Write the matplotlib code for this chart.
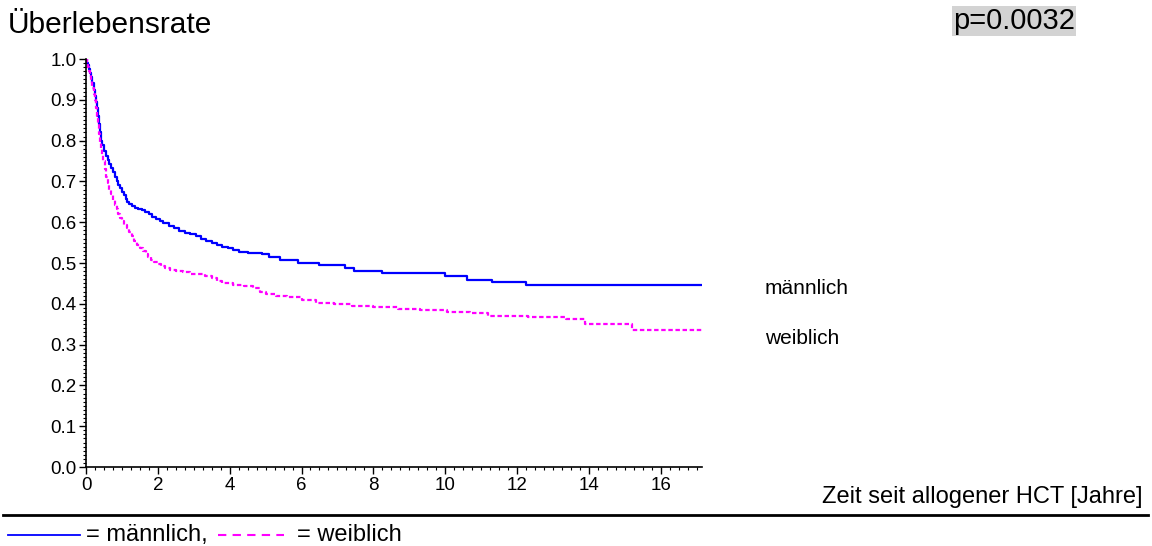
import matplotlib
matplotlib.use("Agg")
import matplotlib.pyplot as plt
from matplotlib.ticker import MultipleLocator, FormatStrFormatter
from matplotlib.lines import Line2D

plt.rcParams['font.family'] = ['Liberation Sans', 'DejaVu Sans']

# Data (Kaplan-Meier step breakpoints)
male_t = [0, 0.03, 0.06, 0.09, 0.12, 0.15, 0.18, 0.21, 0.24, 0.27, 0.3, 0.33, 0.36, 0.39,
          0.42, 0.45, 0.5, 0.55, 0.6, 0.65, 0.7, 0.75, 0.8, 0.85, 0.9, 0.95, 1.0, 1.05,
          1.1, 1.15, 1.2, 1.28, 1.36, 1.45, 1.55, 1.65, 1.75, 1.85, 1.95, 2.05, 2.15,
          2.3, 2.45, 2.6, 2.75, 2.9, 3.05, 3.2, 3.35, 3.5, 3.65, 3.8, 3.95, 4.1, 4.25,
          4.5, 4.9, 5.1, 5.4, 5.9, 6.5, 7.2, 7.45, 8.25, 10.0, 10.6, 11.3, 12.25, 17.15]
male_s = [1.0, 0.99, 0.985, 0.975, 0.965, 0.955, 0.94, 0.925, 0.91, 0.895, 0.88, 0.86,
          0.84, 0.82, 0.80, 0.79, 0.775, 0.762, 0.752, 0.742, 0.732, 0.722, 0.712, 0.702,
          0.692, 0.683, 0.674, 0.666, 0.658, 0.65, 0.644, 0.639, 0.636, 0.633, 0.629,
          0.624, 0.619, 0.613, 0.607, 0.602, 0.597, 0.591, 0.585, 0.579, 0.574, 0.57,
          0.565, 0.559, 0.553, 0.549, 0.545, 0.54, 0.536, 0.532, 0.528, 0.524, 0.521,
          0.514, 0.507, 0.50, 0.494, 0.487, 0.48, 0.475, 0.468, 0.458, 0.453, 0.447, 0.447]
female_t = [0, 0.03, 0.06, 0.09, 0.12, 0.15, 0.18, 0.21, 0.24, 0.27, 0.3, 0.33, 0.36,
            0.39, 0.42, 0.45, 0.48, 0.52, 0.56, 0.6, 0.65, 0.7, 0.75, 0.8, 0.85, 0.9,
            0.95, 1.0, 1.07, 1.14, 1.21, 1.28, 1.35, 1.42, 1.5, 1.58, 1.66, 1.74, 1.82,
            1.9, 2.0, 2.1, 2.2, 2.35, 2.5, 2.7, 2.9, 3.1, 3.3, 3.5, 3.65, 3.8, 4.1, 4.4,
            4.65, 4.85, 5.0, 5.3, 5.6, 6.0, 6.4, 6.9, 7.4, 8.0, 8.7, 9.3, 10.05, 10.7,
            11.2, 12.3, 13.35, 13.9, 15.2, 17.15]
female_s = [1.0, 0.99, 0.98, 0.97, 0.96, 0.945, 0.93, 0.915, 0.90, 0.88, 0.86, 0.84,
            0.815, 0.795, 0.78, 0.765, 0.75, 0.73, 0.71, 0.695, 0.68, 0.67, 0.655, 0.643,
            0.632, 0.62, 0.61, 0.602, 0.594, 0.585, 0.575, 0.565, 0.555, 0.545, 0.537,
            0.529, 0.521, 0.514, 0.508, 0.503, 0.498, 0.493, 0.488, 0.484, 0.48, 0.477,
            0.474, 0.472, 0.469, 0.463, 0.457, 0.45, 0.447, 0.443, 0.438, 0.428, 0.424,
            0.42, 0.416, 0.41, 0.403, 0.399, 0.395, 0.392, 0.388, 0.386, 0.381, 0.378,
            0.37, 0.368, 0.362, 0.35, 0.337, 0.337]
x_ticks = [0, 2, 4, 6, 8, 10, 12, 14, 16]
y_ticks = [0.0, 0.1, 0.2, 0.3, 0.4, 0.5, 0.6, 0.7, 0.8, 0.9, 1.0]
labels = ["männlich", "weiblich"]

W, H = 1152, 546
fig = plt.figure(figsize=(W / 100, H / 100), dpi=100)
ax = fig.add_axes([86 / W, 1 - 467 / H, (702 - 86) / W, (467 - 59) / H])

ax.step(male_t, male_s, where='post', color='#0000ff', lw=1.6)
ax.step(female_t, female_s, where='post', color='#ff00ff', lw=1.6, linestyle=(0, (2, 1.2)))

ax.set_xlim(0, 17.15)
ax.set_ylim(0, 1.0)
for s in ['top', 'right']:
    ax.spines[s].set_visible(False)
ax.spines['left'].set_linewidth(1.2)
ax.spines['bottom'].set_linewidth(1.2)
ax.set_xticks(x_ticks)
ax.set_yticks(y_ticks)
ax.yaxis.set_major_formatter(FormatStrFormatter('%.1f'))
ax.xaxis.set_minor_locator(MultipleLocator(0.25))
ax.yaxis.set_minor_locator(MultipleLocator(0.01))
ax.tick_params(axis='both', which='major', direction='out', length=5, width=1,
               labelsize=13.5, pad=2)
ax.tick_params(axis='both', which='minor', direction='out', length=2.5, width=0.8)

# Title and p-value
fig.text(8 / W, 1 - 25 / H, "Überlebensrate", fontsize=21.5, ha='left', va='center')
fig.text(953 / W, 1 - 21 / H, "p=0.0032", fontsize=21, ha='left', va='center',
         bbox=dict(facecolor='#d3d3d3', edgecolor='none', pad=1))

# Curve labels
fig.text(765 / W, 1 - 289 / H, labels[0], fontsize=15, ha='left', va='center')
fig.text(765 / W, 1 - 338 / H, labels[1], fontsize=15, ha='left', va='center')

# X axis label
fig.text(1142 / W, 1 - 497 / H, "Zeit seit allogener HCT [Jahre]", fontsize=17,
         ha='right', va='center')

# Separator line
fig.add_artist(Line2D([3 / W, 1148 / W], [1 - 515 / H, 1 - 515 / H], color='black', lw=2))

# Bottom legend
fig.add_artist(Line2D([8 / W, 80 / W], [1 - 535 / H, 1 - 535 / H], color='#0000ff', lw=1.3))
fig.text(86 / W, 1 - 535 / H, "= männlich,", fontsize=17, ha='left', va='center')
fig.add_artist(Line2D([218 / W, 284 / W], [1 - 535 / H, 1 - 535 / H], color='#ff00ff',
                      lw=1.5, linestyle=(0, (4, 3))))
fig.text(297 / W, 1 - 535 / H, "= weiblich", fontsize=17, ha='left', va='center')

fig.savefig("out.png", dpi=100)
